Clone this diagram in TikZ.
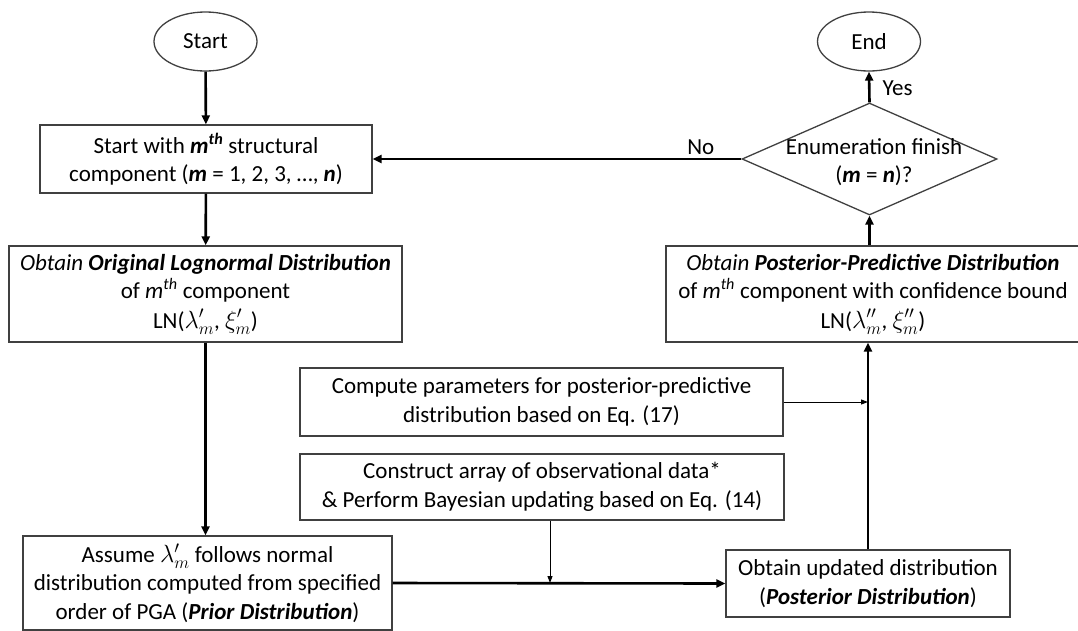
\documentclass[tikz,border=0pt]{standalone}
\usepackage{fontspec}
\setmainfont{Carlito}
\usetikzlibrary{shapes.geometric,arrows.meta}
\begin{document}
\begin{tikzpicture}[x=1pt,y=-1pt,
  every node/.style={font=\fontsize{23}{28.5}\selectfont, align=center, inner sep=0pt},
  boxnode/.style={draw=black!75, line width=1.3pt, rectangle},
  ovalnode/.style={draw=black!75, line width=1.3pt, ellipse, minimum width=103pt, minimum height=59pt},
  thk/.style={line width=2.6pt, -{Triangle[length=9pt,width=8pt]}},
  thn/.style={line width=1pt, -{Triangle[length=7pt,width=5pt]}}]
\useasboundingbox (0,0) rectangle (1078,630);
\node[ovalnode] (start) at (205.5,41.5) {Start};
\node[ovalnode] (end) at (869,41.5) {End};
\node[boxnode, minimum width=332pt, minimum height=68pt] (sw) at (206,159)
  {Start with \textbf{\textit{m}}\textsuperscript{\textbf{\textit{th}}} structural\\component (\textbf{\textit{m}} = 1, 2, 3, \dots, \textbf{\textit{n}})};
\node[boxnode, minimum width=393pt, minimum height=96pt] (orig) at (205.5,294)
  {\textit{Obtain} \textbf{\textit{Original Lognormal Distribution}}\\of \textit{m}\textsuperscript{\textit{th}} component\\[1pt]LN($\lambda'_m$, $\xi'_m$)};
\node[boxnode, minimum width=369pt, minimum height=94pt] (assume) at (207.5,583)
  {Assume $\lambda'_m$ follows normal\\distribution computed from specified\\order of PGA (\textbf{\textit{Prior Distribution}})};
\node[boxnode, minimum width=483pt, minimum height=68pt] (comp) at (541.5,402)
  {Compute parameters for posterior-predictive\\distribution based on Eq. (17)};
\node[boxnode, minimum width=484pt, minimum height=66pt] (cons) at (542,487)
  {Construct array of observational data*\\\& Perform Bayesian updating based on Eq. (14)};
\node[boxnode, minimum width=284pt, minimum height=67pt] (upd) at (868,583.5)
  {Obtain updated distribution\\(\textbf{\textit{Posterior Distribution}})};
\node[boxnode, minimum width=414pt, minimum height=96pt] (pp) at (873,294)
  {\textit{Obtain} \textbf{\textit{Posterior-Predictive Distribution}}\\of \textit{m}\textsuperscript{\textit{th}} component with confidence bound\\[1pt]LN($\lambda''_m$, $\xi''_m$)};
\node[draw=black!75, line width=1.3pt, diamond, aspect=2.28, minimum width=255pt, minimum height=112pt] (dia) at (869.5,159) {};
\node (diatext) at (874,162) {Enumeration finish\\(\textbf{\textit{m}} = \textbf{\textit{n}})?};
\coordinate (j) at (550,583);
\draw[thk] (start) -- (sw);
\draw[thk] (sw) -- (orig);
\draw[thk] (orig.south) -- (orig.south |- assume.north);
\draw[thk] (assume.east) -- (upd.west);
\draw[thn] (cons.south -| j) -- (j);
\draw[thk] (upd.north) -- (upd.north |- pp.south);
\draw[thn] (comp.east) -- (comp.east -| upd.north);
\draw[thk] (dia.south |- pp.north) -- (dia.south);
\draw[thk] (dia.north) -- (end.south) node[pos=0.45, right=12pt] (yes) {Yes};
\draw[thk] (dia.west) -- (sw.east) node[pos=0.11, above=3pt] (no) {No};
\end{tikzpicture}
\end{document}
